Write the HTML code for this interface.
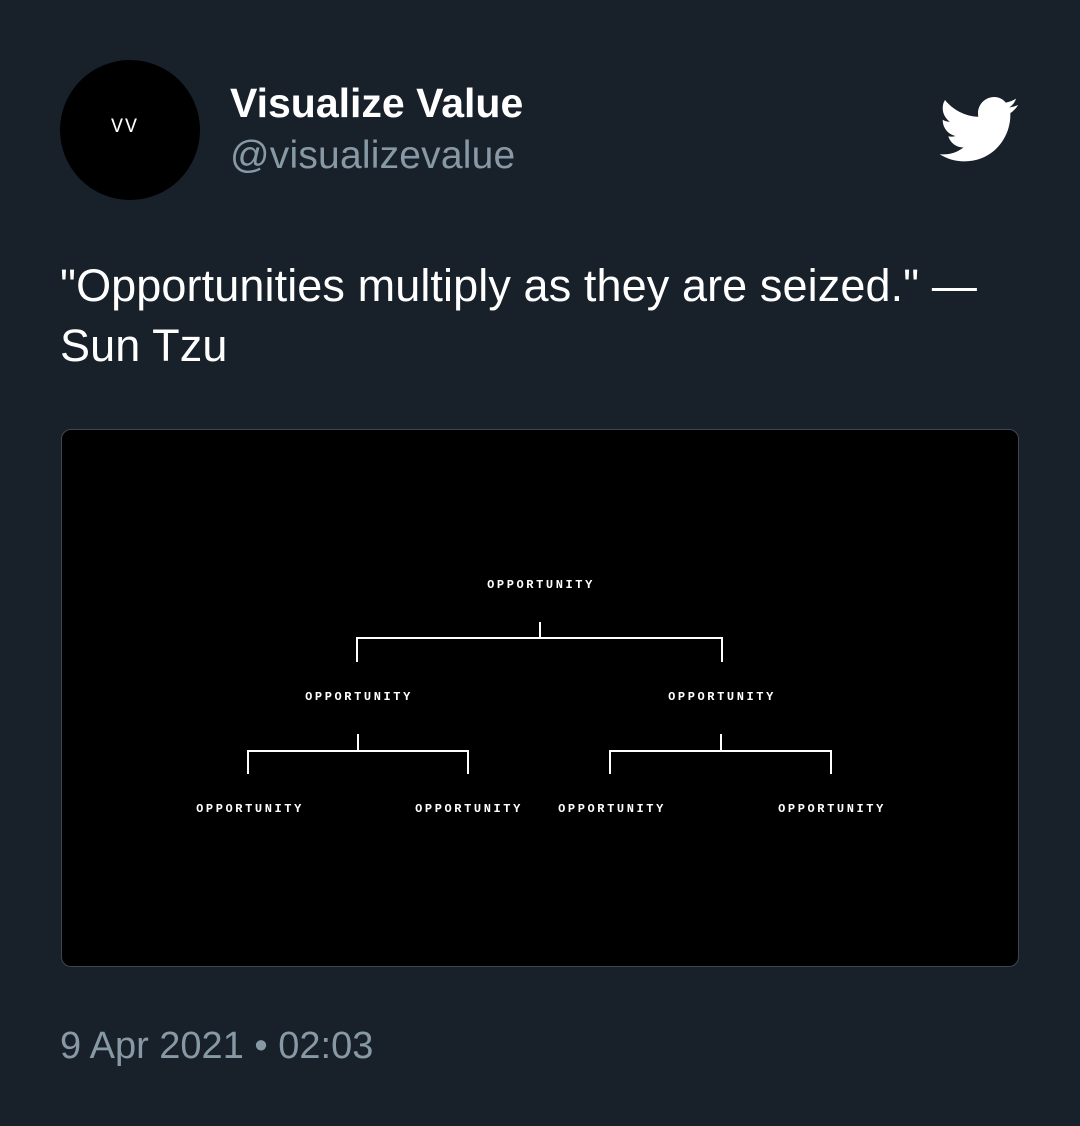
<!DOCTYPE html>
<html><head><style>
body{margin:0;width:1080px;height:1126px;background:#18202a;font-family:"Liberation Sans",sans-serif;position:relative;overflow:hidden}
.a{position:absolute}
.lbl{position:absolute;transform:translate(-50%,-50%);color:#fff;font-family:"Liberation Mono",monospace;font-size:12px;font-weight:bold;letter-spacing:2.6px;white-space:nowrap}
</style></head><body>
<div class="a" style="left:60px;top:60px;width:140px;height:140px;border-radius:50%;background:#000"></div>
<div class="a" style="left:111px;top:116px;color:#fff;font-family:'Liberation Mono',monospace;font-size:20px;letter-spacing:2px">VV</div>
<div class="a" style="left:230px;top:80px;color:#fff;font-size:41px;font-weight:bold;letter-spacing:0px">Visualize Value</div>
<div class="a" style="left:230px;top:134px;color:#8899a6;font-size:39px;letter-spacing:0.2px">@visualizevalue</div>
<svg class="a" style="left:940px;top:97px" width="80" height="66" viewBox="0 0 24 20"><path fill="#fff" d="M23.6 2.4c-.9.4-1.8.6-2.8.8 1-.6 1.8-1.6 2.1-2.7-.9.6-2 1-3.1 1.2C19 .6 17.7 0 16.3 0c-2.7 0-4.9 2.2-4.9 4.9 0 .4 0 .8.1 1.1C7.4 5.8 3.8 3.9 1.4.9.9 1.6.7 2.5.7 3.4c0 1.7.9 3.2 2.2 4.1-.8 0-1.6-.2-2.2-.6v.1c0 2.4 1.7 4.4 3.9 4.8-.4.1-.8.2-1.3.2-.3 0-.6 0-.9-.1.6 2 2.4 3.4 4.6 3.4-1.7 1.3-3.8 2.1-6.1 2.1-.4 0-.8 0-1.2-.1 2.2 1.4 4.8 2.2 7.5 2.2 9.1 0 14-7.5 14-14v-.6c1-.7 1.8-1.6 2.4-2.5z"/></svg>
<div class="a" style="left:60px;top:256px;color:#fff;font-size:45px;line-height:60px;width:1000px;letter-spacing:0.1px">"Opportunities multiply as they are seized." —<br>Sun Tzu</div>
<div class="a" style="left:61px;top:429px;width:956px;height:536px;background:#000;border:1px solid #3d4752;border-radius:10px"></div>
<svg class="a" style="left:0;top:0" width="1080" height="1126">
<g stroke="#fff" stroke-width="2" fill="none">
<path d="M540 622V638M357 662V638H722V662"/>
<path d="M358 734V751M248 774V751H468V774"/>
<path d="M721 734V751M610 774V751H831V774"/>
</g></svg>
<div class="lbl" style="left:541px;top:585px">OPPORTUNITY</div>
<div class="lbl" style="left:359px;top:697px">OPPORTUNITY</div>
<div class="lbl" style="left:722px;top:697px">OPPORTUNITY</div>
<div class="lbl" style="left:250px;top:809px">OPPORTUNITY</div>
<div class="lbl" style="left:469px;top:809px">OPPORTUNITY</div>
<div class="lbl" style="left:612px;top:809px">OPPORTUNITY</div>
<div class="lbl" style="left:832px;top:809px">OPPORTUNITY</div>
<div class="a" style="left:60px;top:1025px;color:#8899a6;font-size:38px">9 Apr 2021 • 02:03</div>
</body></html>
